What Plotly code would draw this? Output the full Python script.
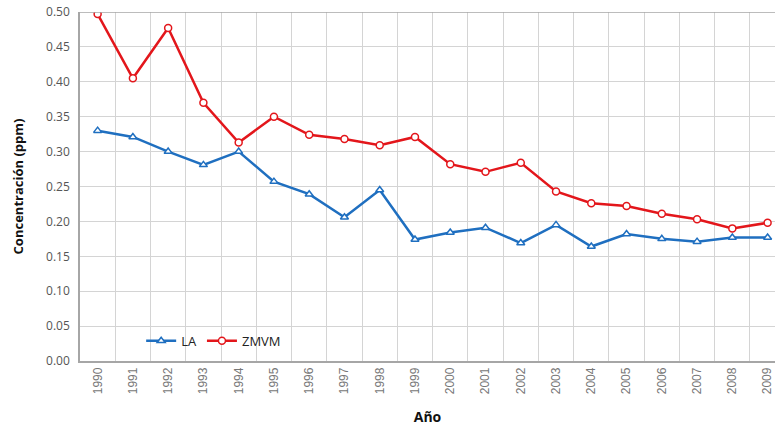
import plotly.graph_objects as go

years = [str(y) for y in range(1990, 2010)]
la = [0.330, 0.321, 0.300, 0.281, 0.300, 0.257, 0.239, 0.206, 0.245, 0.174,
      0.184, 0.191, 0.169, 0.195, 0.164, 0.182, 0.175, 0.171, 0.177, 0.177]
zmvm = [0.497, 0.405, 0.477, 0.370, 0.313, 0.350, 0.324, 0.318, 0.309, 0.321,
        0.282, 0.271, 0.284, 0.243, 0.226, 0.222, 0.211, 0.203, 0.190, 0.198]
y_ticks = [0.0, 0.05, 0.10, 0.15, 0.20, 0.25, 0.30, 0.35, 0.40, 0.45, 0.50]

fig = go.Figure()
fig.add_scatter(x=years, y=la, name="LA", mode="lines+markers",
                line=dict(color="#1f6fc0", width=2.5),
                marker=dict(symbol="triangle-up", size=7, color="white",
                            line=dict(color="#1f6fc0", width=1.5)))
fig.add_scatter(x=years, y=zmvm, name="ZMVM", mode="lines+markers",
                line=dict(color="#e3161b", width=2.5),
                marker=dict(symbol="circle", size=7, color="white",
                            line=dict(color="#e3161b", width=1.5)))

fig.update_layout(
    width=775, height=426,
    margin=dict(l=80, r=0, t=12, b=65, autoexpand=False),
    plot_bgcolor="white", paper_bgcolor="white",
    font=dict(family="Open Sans", color="#555555"),
    legend=dict(orientation="h", x=0.088, y=0.015, xanchor="left", yanchor="bottom",
                bgcolor="rgba(0,0,0,0)", font=dict(size=13, color="#222222"),
                tracegroupgap=0),
    showlegend=True,
)
fig.update_xaxes(
    type="category", range=[-0.5, 19.21], tickson="boundaries", automargin=False,
    tickangle=-90, tickfont=dict(family="Liberation Sans", size=12, color="#777777"),
    showgrid=True, gridcolor="#d4d4d4", gridwidth=1,
    showline=True, linecolor="#a6a6a6", linewidth=1.5, ticks="",
    title=dict(text="<b>Año</b>", font=dict(size=14, color="#111111"), standoff=20),
)
fig.update_yaxes(
    range=[0, 0.5], tickvals=y_ticks, tickformat=".2f", automargin=False,
    tickfont=dict(size=12, color="#555555"), ticklabeloverflow="allow",
    ticklabelstandoff=6,
    showgrid=True, gridcolor="#d4d4d4", gridwidth=1,
    showline=True, linecolor="#a6a6a6", linewidth=1.5, mirror=False,
    zeroline=False, ticks="",
    title=dict(text="<b>Concentración (ppm)</b>", font=dict(size=13, color="#111111"), standoff=20),
)
fig.add_hline(y=0.5, line=dict(color="#a6a6a6", width=1.5))

# drop the default 8px body margin so the figure sits at the page corner
fig.write_html("out.html", config={"displayModeBar": False},
               post_script="document.body.style.margin='0px';")
